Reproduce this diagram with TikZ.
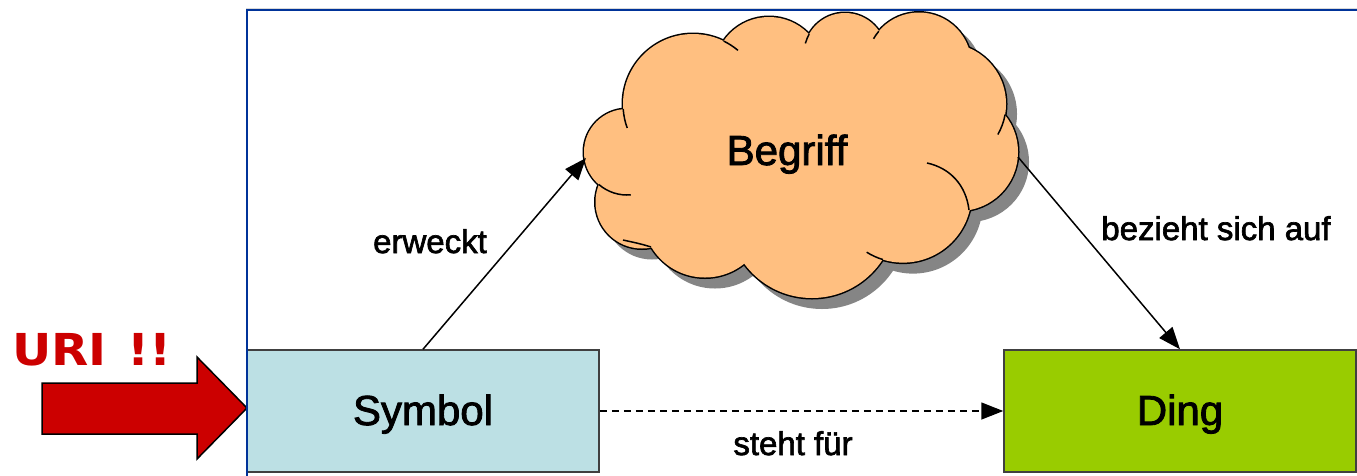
\documentclass[tikz,border=0pt]{standalone}
\usepackage{fontspec}
\setmainfont{Liberation Sans}
\newfontface\lsheavy{Liberation Sans}[FakeBold=2]
\newfontfamily\urifont{DejaVu Sans}
\usetikzlibrary{arrows.meta,calc}
\definecolor{frameblue}{RGB}{0,51,153}
\definecolor{symfill}{RGB}{188,224,228}
\definecolor{dingfill}{RGB}{153,204,0}
\definecolor{cloudfill}{RGB}{255,191,128}
\definecolor{cloudshadow}{RGB}{133,133,133}
\definecolor{urired}{RGB}{204,0,0}
\begin{document}
\begin{tikzpicture}[x=1pt,y=-1pt,
  boxnode/.style={draw=black!75, line width=1.5pt, minimum width=352pt, minimum height=122pt,
    inner sep=0pt, text height=30pt, text depth=2pt, font=\lsheavy\fontsize{42}{50}\selectfont},
  conn/.style={line width=1.5pt, -{Triangle[length=22pt,width=17pt]}},
  lbl/.style={font=\lsheavy\fontsize{33}{40}\selectfont, anchor=base, inner sep=0pt},
  cloudline/.style={line width=1.5pt, black},
  redarrow/.style={fill=urired, draw=black, line width=1.5pt, line join=miter}]
\useasboundingbox (0,0) rectangle (1357,475);
\def\cloudcircles{627/152/43, 642/202/46.5, 705/215/62.5, 812/214/84, 903/194/68.6, 959/152/59, 945/104/61, 919/65/52.5, 845/54/41, 769/72/55, 693/104/70}
% shadow of the cloud
\begin{scope}[shift={(10,10)}]
  \foreach \cx/\cy/\r in \cloudcircles {\fill[cloudshadow] (\cx,\cy) circle[radius=\r+1];}
\end{scope}
% outline and fill of the cloud
\foreach \cx/\cy/\r in \cloudcircles {\draw[line width=3pt] (\cx,\cy) circle[radius=\r];}
\foreach \cx/\cy/\r in \cloudcircles {\fill[cloudfill] (\cx,\cy) circle[radius=\r];}
\fill[cloudfill] (800,155) ellipse[x radius=170, y radius=95];
% inner tails of the puffs
\draw[cloudline] (627,152) ++(131:43) arc[start angle=131, end angle=85, radius=43];
\draw[cloudline] (693,104) ++(176:70) arc[start angle=176, end angle=160, radius=70];
\draw[cloudline] (693,104) ++(-64:70) arc[start angle=-64, end angle=-50, radius=70];
\draw[cloudline] (845,54) ++(209:41) arc[start angle=209, end angle=195, radius=41];
\draw[cloudline] (919,65) ++(220:52.5) arc[start angle=220, end angle=210, radius=52.5];
\draw[cloudline] (945,104) ++(10:61) arc[start angle=10, end angle=30, radius=61];
\draw[cloudline] (969,210) .. controls (966,185) and (950,168) .. (927,163);
\draw[cloudline] (903,194) ++(107:68.6) arc[start angle=107, end angle=122, radius=68.6];
\draw[cloudline] (651,247) .. controls (642,244) and (632,242) .. (623,240);
\node[font=\lsheavy\fontsize{42}{50}\selectfont, anchor=base, inner sep=0pt] (begriff) at (787,165) {Begriff};
\coordinate (cloudin) at (586,158);
\coordinate (cloudout) at (1018,157);
% boxes
\node[boxnode, fill=symfill] (symbol) at (423,411) {Symbol};
\node[boxnode, fill=dingfill] (ding) at (1180,411) {Ding};
% connectors
\draw[conn] (symbol.north) -- (cloudin);
\draw[conn] (cloudout) -- (ding.north);
\draw[conn, dash pattern=on 7pt off 5pt] (symbol.east) -- (ding.west);
% labels
\node[lbl] (erweckt) at (430,253) {erweckt};
\node[lbl] (bezieht) at (1216,240) {bezieht sich auf};
\node[lbl] (stehtfuer) at (793,455) {steht für};
% red arrow and URI
\draw[redarrow] (42,383) -- (197,383) -- (197,357) -- (247,408) -- (197,459) -- (197,434) -- (42,434) -- cycle;
\node[anchor=base west, text=urired, inner sep=0pt, xscale=1.1, transform shape,
  font=\urifont\bfseries\fontsize{44}{52}\selectfont] (uri) at (12,365) {URI\hspace{19pt}!!};
% frame
\draw[black!15, line width=1pt] (246,8) -- (1362,8);
\draw[frameblue, line width=2.2pt] (247,480) -- (247,10) -- (1362,10);
\end{tikzpicture}
\end{document}
